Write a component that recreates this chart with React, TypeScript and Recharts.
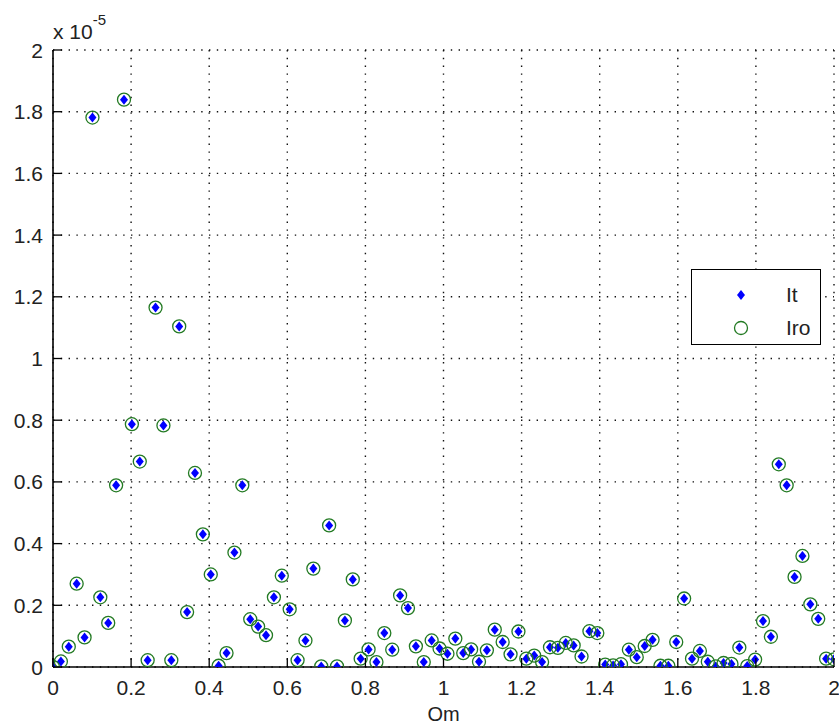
import { ScatterChart, Scatter, XAxis, YAxis, CartesianGrid, Legend } from "recharts";

// Om samples (100 equally spaced points over 0..2)
const omega = [
  0, 0.0202, 0.0404, 0.0606, 0.0808, 0.101, 0.1212, 0.1414, 0.1616, 0.1818,
  0.202, 0.2222, 0.2424, 0.2626, 0.2828, 0.303, 0.3232, 0.3434, 0.3636, 0.3838,
  0.404, 0.4242, 0.4444, 0.4646, 0.4848, 0.5051, 0.5253, 0.5455, 0.5657, 0.5859,
  0.6061, 0.6263, 0.6465, 0.6667, 0.6869, 0.7071, 0.7273, 0.7475, 0.7677, 0.7879,
  0.8081, 0.8283, 0.8485, 0.8687, 0.8889, 0.9091, 0.9293, 0.9495, 0.9697, 0.9899,
  1.0101, 1.0303, 1.0505, 1.0707, 1.0909, 1.1111, 1.1313, 1.1515, 1.1717, 1.1919,
  1.2121, 1.2323, 1.2525, 1.2727, 1.2929, 1.3131, 1.3333, 1.3535, 1.3737, 1.3939,
  1.4141, 1.4343, 1.4545, 1.4747, 1.4949, 1.5152, 1.5354, 1.5556, 1.5758, 1.596,
  1.6162, 1.6364, 1.6566, 1.6768, 1.697, 1.7172, 1.7374, 1.7576, 1.7778, 1.798,
  1.8182, 1.8384, 1.8586, 1.8788, 1.899, 1.9192, 1.9394, 1.9596, 1.9798, 2,
];

// It, in units of 1e-5
const itValues = [
  0, 0.018, 0.066, 0.27, 0.096, 1.781, 0.226, 0.143, 0.589, 1.839,
  0.787, 0.666, 0.022, 1.165, 0.783, 0.022, 1.104, 0.178, 0.629, 0.43,
  0.3, 0.004, 0.045, 0.371, 0.589, 0.155, 0.131, 0.103, 0.226, 0.296,
  0.187, 0.022, 0.086, 0.319, 0.002, 0.459, 0.002, 0.151, 0.284, 0.027,
  0.057, 0.016, 0.11, 0.056, 0.232, 0.191, 0.067, 0.016, 0.086, 0.06,
  0.043, 0.092, 0.045, 0.057, 0.017, 0.054, 0.121, 0.081, 0.041, 0.115,
  0.027, 0.037, 0.016, 0.064, 0.062, 0.078, 0.07, 0.034, 0.116, 0.11,
  0.008, 0.005, 0.009, 0.056, 0.032, 0.068, 0.088, 0.004, 0.004, 0.081,
  0.222, 0.027, 0.052, 0.017, 0.002, 0.013, 0.01, 0.063, 0.003, 0.024,
  0.149, 0.098, 0.657, 0.589, 0.292, 0.36, 0.203, 0.156, 0.027, 0.025,
];

// Iro, in units of 1e-5 (lands on It at every sample)
const iroValues = [...itValues];

const xTicks = [0, 0.2, 0.4, 0.6, 0.8, 1, 1.2, 1.4, 1.6, 1.8, 2];
const yTicks = [0, 0.2, 0.4, 0.6, 0.8, 1, 1.2, 1.4, 1.6, 1.8, 2];
const EXPONENT = "-5";

const FONT = '"Liberation Sans", Arial, Helvetica, sans-serif';
const TEXT = "#222";
const TICK_LEN = 9;
const BLUE = "#0000ff";
const GREEN = "#237a23";

const itPoints = omega.map((om, i) => ({ om, v: itValues[i] }));
const iroPoints = omega.map((om, i) => ({ om, v: iroValues[i] }));

const fmt = (v: number) => String(Number(v.toFixed(1)));

// ─── Markers ──────────────────────────────────────────────────────────────────

function DotMarker({ cx, cy }: any) {
  if (cx == null || cy == null) return null;
  return <path d={`M${cx},${cy - 5} L${cx + 4},${cy} L${cx},${cy + 5} L${cx - 4},${cy} Z`} fill={BLUE} />;
}

function RingMarker({ cx, cy }: any) {
  if (cx == null || cy == null) return null;
  return <circle cx={cx} cy={cy} r={6.5} fill="none" stroke={GREEN} strokeWidth={1.3} />;
}

// ─── Ticks (MATLAB style: pointing into the box) ─────────────────────────────

function BottomTick({ x, y, payload }: any) {
  return (
    <g>
      <line x1={x} y1={y} x2={x} y2={y - TICK_LEN} stroke="#000" strokeWidth={1.3} />
      <text x={x} y={y + 28} textAnchor="middle" fontSize={21} fontFamily={FONT} fill={TEXT}>
        {fmt(payload.value)}
      </text>
    </g>
  );
}

function LeftTick({ x, y, payload }: any) {
  return (
    <g>
      <line x1={x} y1={y} x2={x + TICK_LEN} y2={y} stroke="#000" strokeWidth={1.3} />
      <text x={x - 10} y={y + 7.5} textAnchor="end" fontSize={21} fontFamily={FONT} fill={TEXT}>
        {fmt(payload.value)}
      </text>
    </g>
  );
}

function TopTick({ x, y }: any) {
  return <line x1={x} y1={y} x2={x} y2={y + TICK_LEN} stroke="#000" strokeWidth={1.3} />;
}

function RightTick({ x, y }: any) {
  return <line x1={x} y1={y} x2={x - TICK_LEN} y2={y} stroke="#000" strokeWidth={1.3} />;
}

// ─── Labels ───────────────────────────────────────────────────────────────────

function ExponentLabel({ viewBox }: any) {
  const { x, y, width } = viewBox;
  return (
    <text x={x + width} y={y - 11} fontSize={21} fontFamily={FONT} fill={TEXT}>
      x 10
      <tspan dy={-14} fontSize={15}>{EXPONENT}</tspan>
    </text>
  );
}

function OmLabel({ viewBox }: any) {
  const { x, y, width } = viewBox;
  return (
    <text x={x + width / 2} y={y + 54} textAnchor="middle" fontSize={20} fontFamily={FONT} fill={TEXT}>
      Om
    </text>
  );
}

// ─── Legend ───────────────────────────────────────────────────────────────────

function BoxLegend() {
  const rows = [
    { name: "It", icon: <path d="M12,5 L16,10 L12,15 L8,10 Z" fill={BLUE} /> },
    { name: "Iro", icon: <circle cx={12} cy={10} r={6.5} fill="none" stroke={GREEN} strokeWidth={1.3} /> },
  ];
  return (
    <div
      style={{
        width: 130,
        height: 76,
        boxSizing: "border-box",
        border: "1.5px solid #000",
        background: "#fff",
        paddingTop: 8,
        fontFamily: FONT,
        fontSize: 21,
        color: TEXT,
      }}
    >
      {rows.map((r) => (
        <div key={r.name} style={{ display: "flex", alignItems: "center", height: 33 }}>
          <svg width={24} height={20} style={{ marginLeft: 37 }}>
            {r.icon}
          </svg>
          <span style={{ marginLeft: 33, lineHeight: "20px" }}>{r.name}</span>
        </div>
      ))}
    </div>
  );
}

// ─── Component ────────────────────────────────────────────────────────────────

export default function App() {
  return (
    <div style={{ position: "absolute", left: 0, top: 0, width: 839, height: 726, background: "#fff" }}>
      <ScatterChart width={839} height={726} margin={{ top: 50, right: 5, bottom: 0, left: 0 }}>
        <CartesianGrid stroke="#111" strokeWidth={1.4} strokeDasharray="1.4 6.4" />
        <XAxis
          type="number"
          dataKey="om"
          domain={[0, 2]}
          ticks={xTicks}
          interval={0}
          height={59}
          tickSize={0}
          tickMargin={0}
          tick={<BottomTick />}
          axisLine={{ stroke: "#000", strokeWidth: 1.6 }}
          allowDataOverflow
          label={<OmLabel />}
        />
        <XAxis
          xAxisId="top"
          orientation="top"
          type="number"
          domain={[0, 2]}
          ticks={xTicks}
          interval={0}
          height={0}
          tickSize={0}
          tickMargin={0}
          tick={<TopTick />}
          axisLine={{ stroke: "#000", strokeWidth: 1.6 }}
          allowDataOverflow
        />
        <YAxis
          type="number"
          dataKey="v"
          domain={[0, 2]}
          ticks={yTicks}
          interval={0}
          width={53}
          tickSize={0}
          tickMargin={0}
          tick={<LeftTick />}
          axisLine={{ stroke: "#000", strokeWidth: 1.6 }}
          allowDataOverflow
          label={<ExponentLabel />}
        />
        <YAxis
          yAxisId="right"
          orientation="right"
          type="number"
          domain={[0, 2]}
          ticks={yTicks}
          interval={0}
          width={0}
          tickSize={0}
          tickMargin={0}
          tick={<RightTick />}
          axisLine={{ stroke: "#000", strokeWidth: 1.6 }}
          allowDataOverflow
        />
        <Legend
          layout="vertical"
          align="center"
          verticalAlign="middle"
          content={<BoxLegend />}
          wrapperStyle={{ position: "absolute", left: 691, top: 269, width: 130, height: 76 }}
        />
        <Scatter name="It" data={itPoints} shape={<DotMarker />} isAnimationActive={false} />
        <Scatter name="Iro" data={iroPoints} shape={<RingMarker />} isAnimationActive={false} />
      </ScatterChart>
    </div>
  );
}
